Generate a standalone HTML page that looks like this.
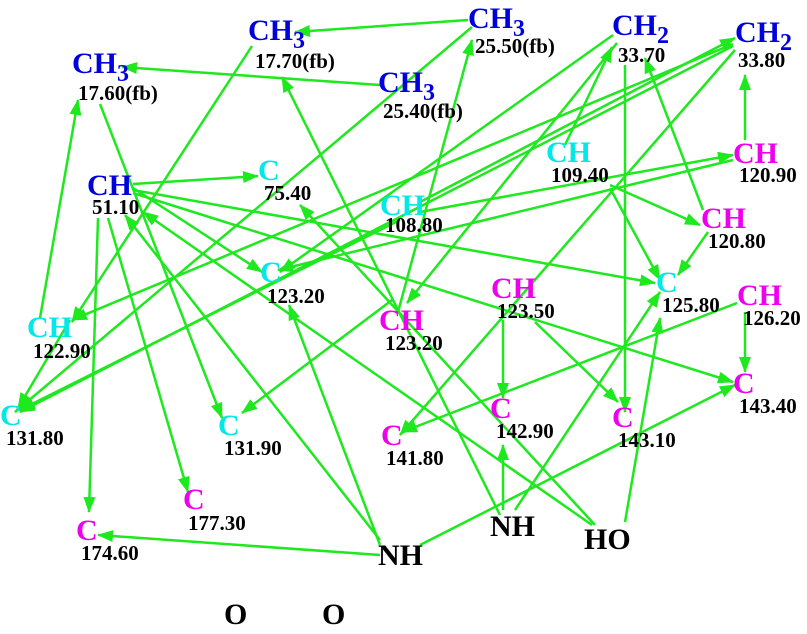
<!DOCTYPE html>
<html><head><meta charset="utf-8"><style>
html,body{margin:0;padding:0;background:#fff;}
svg{display:block;}
text{font-family:"Liberation Serif",serif;font-weight:bold;}
.s{font-size:30px;}
.n{font-size:21px;fill:#000;}
.b{fill:#0000dd;}.c{fill:#00e8e8;}.m{fill:#ee00ee;}.k{fill:#000;}
</style></head><body>
<svg width="807" height="634" viewBox="0 0 807 634" xmlns="http://www.w3.org/2000/svg">
<defs><marker id="a" markerWidth="16" markerHeight="12" refX="15" refY="6" orient="auto" markerUnits="userSpaceOnUse"><path d="M0,0 L16,6 L0,12 Z" fill="#1ee81e"/></marker></defs>
<g stroke="#1ee81e" stroke-width="2.5" fill="none" marker-end="url(#a)">
<line x1="468" y1="20" x2="295" y2="32"/>
<line x1="380" y1="85" x2="122" y2="67"/>
<line x1="252" y1="46" x2="72" y2="322"/>
<line x1="40" y1="318" x2="78" y2="100"/>
<line x1="100" y1="104" x2="222" y2="418"/>
<line x1="133" y1="184" x2="258" y2="176"/>
<line x1="133" y1="188" x2="262" y2="272"/>
<line x1="133" y1="190" x2="655" y2="283"/>
<line x1="133" y1="193" x2="733" y2="382"/>
<line x1="98" y1="218" x2="89" y2="512"/>
<line x1="108" y1="218" x2="188" y2="492"/>
<line x1="380" y1="540" x2="125" y2="215"/>
<line x1="592" y1="525" x2="143" y2="212"/>
<line x1="595" y1="525" x2="300" y2="205"/>
<line x1="380" y1="545" x2="289" y2="305"/>
<line x1="380" y1="555" x2="98" y2="535"/>
<line x1="420" y1="545" x2="735" y2="385"/>
<line x1="500" y1="515" x2="282" y2="77"/>
<line x1="472" y1="27" x2="15" y2="412"/>
<line x1="398" y1="312" x2="472" y2="40"/>
<line x1="613" y1="35" x2="280" y2="272"/>
<line x1="617" y1="43" x2="407" y2="303"/>
<line x1="565" y1="145" x2="612" y2="47"/>
<line x1="625" y1="65" x2="625" y2="412"/>
<line x1="703" y1="210" x2="645" y2="58"/>
<line x1="745" y1="140" x2="745" y2="75"/>
<line x1="420" y1="202" x2="735" y2="38"/>
<line x1="733" y1="44" x2="72" y2="320"/>
<line x1="733" y1="46" x2="20" y2="412"/>
<line x1="735" y1="50" x2="400" y2="435"/>
<line x1="610" y1="185" x2="700" y2="225"/>
<line x1="610" y1="188" x2="660" y2="280"/>
<line x1="708" y1="232" x2="678" y2="275"/>
<line x1="420" y1="212" x2="733" y2="155"/>
<line x1="733" y1="160" x2="278" y2="270"/>
<line x1="745" y1="312" x2="745" y2="372"/>
<line x1="737" y1="303" x2="402" y2="432"/>
<line x1="503" y1="320" x2="503" y2="398"/>
<line x1="535" y1="322" x2="618" y2="402"/>
<line x1="503" y1="510" x2="503" y2="445"/>
<line x1="515" y1="510" x2="660" y2="292"/>
<line x1="625" y1="522" x2="660" y2="318"/>
<line x1="392" y1="300" x2="242" y2="413"/>
<line x1="400" y1="220" x2="20" y2="410"/>
<line x1="70" y1="320" x2="18" y2="408"/>
</g>
<text class="s b" x="72" y="73">CH<tspan font-size="24" dy="8">3</tspan></text><text class="n" x="78" y="100">17.60(fb)</text>
<text class="s b" x="248" y="40">CH<tspan font-size="24" dy="8">3</tspan></text><text class="n" x="255" y="68">17.70(fb)</text>
<text class="s b" x="468" y="28">CH<tspan font-size="24" dy="8">3</tspan></text><text class="n" x="475" y="53">25.50(fb)</text>
<text class="s b" x="378" y="92">CH<tspan font-size="24" dy="8">3</tspan></text><text class="n" x="383" y="118">25.40(fb)</text>
<text class="s b" x="612" y="35">CH<tspan font-size="24" dy="8">2</tspan></text><text class="n" x="618" y="62">33.70</text>
<text class="s b" x="735" y="42">CH<tspan font-size="24" dy="8">2</tspan></text><text class="n" x="738" y="67">33.80</text>
<text class="s b" x="87" y="195">CH</text><text class="n" x="92" y="214">51.10</text>
<text class="s c" x="258" y="180">C</text><text class="n" x="264" y="200">75.40</text>
<text class="s c" x="380" y="215">CH</text><text class="n" x="385" y="232">108.80</text>
<text class="s c" x="546" y="162">CH</text><text class="n" x="551" y="182">109.40</text>
<text class="s m" x="733" y="163">CH</text><text class="n" x="739" y="182">120.90</text>
<text class="s m" x="701" y="228">CH</text><text class="n" x="708" y="248">120.80</text>
<text class="s c" x="260" y="282">C</text><text class="n" x="267" y="303">123.20</text>
<text class="s c" x="656" y="292">C</text><text class="n" x="662" y="312">125.80</text>
<text class="s m" x="491" y="298">CH</text><text class="n" x="497" y="318">123.50</text>
<text class="s m" x="737" y="305">CH</text><text class="n" x="743" y="325">126.20</text>
<text class="s m" x="379" y="330">CH</text><text class="n" x="385" y="350">123.20</text>
<text class="s c" x="27" y="337">CH</text><text class="n" x="33" y="358">122.90</text>
<text class="s c" x="0" y="425">C</text><text class="n" x="6" y="445">131.80</text>
<text class="s c" x="218" y="435">C</text><text class="n" x="224" y="455">131.90</text>
<text class="s m" x="381" y="445">C</text><text class="n" x="386" y="465">141.80</text>
<text class="s m" x="490" y="418">C</text><text class="n" x="496" y="438">142.90</text>
<text class="s m" x="612" y="427">C</text><text class="n" x="618" y="447">143.10</text>
<text class="s m" x="733" y="393">C</text><text class="n" x="739" y="413">143.40</text>
<text class="s m" x="183" y="509">C</text><text class="n" x="188" y="530">177.30</text>
<text class="s m" x="76" y="540">C</text><text class="n" x="81" y="560">174.60</text>
<text class="s k" x="378" y="565" font-size="29">NH</text>
<text class="s k" x="490" y="536" font-size="29">NH</text>
<text class="s k" x="584" y="549" font-size="29">HO</text>
<text class="s k" x="224" y="624" font-size="26">O</text>
<text class="s k" x="322" y="624" font-size="26">O</text>
</svg>
</body></html>
